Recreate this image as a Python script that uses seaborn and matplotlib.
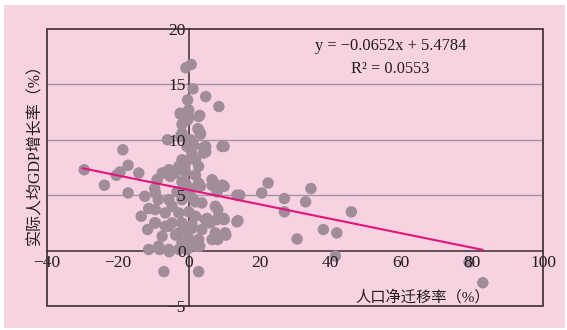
import matplotlib
matplotlib.use("Agg")
import matplotlib.pyplot as plt
import seaborn as sns
import numpy as np
import pandas as pd
from matplotlib.patches import Rectangle

# ---------------- data ----------------
mig_rate = [
    -29.5, -23.8, -18.6, -20.4, -19.4, -17.1, -17.1, -14.1, -12.4, -11.3, -13.4, -11.6,
    -9.6, -8.9, -9.6, -8.6, -7.0, -5.5, -6.0, -1.9, -2.4, -1.3, -0.3, -0.8, 0.7, 1.2,
    -0.3, 0.0, 3.1, 4.8, 8.5, 2.6, 3.3, 1.2, 4.8, 4.8, 10.0, 6.9, 10.0, 8.0, 14.4, 13.9,
    8.2, 10.0, 10.5, 8.2, 20.6, 22.4, 27.0, 27.0, 30.6, 33.0, 34.5, 38.0, 41.8, 41.4,
    45.9, 79.1, 83.0, -7.0, 2.8, -5.5, -8.2, 3.1,
    # dense cluster (lower)
    -1.4, 2.8, 6.6, 9.4, 13.6, -9.4, -5.6, -1.9, 0.9, 3.7, 7.5, -9.4, -6.6, -2.8, 0.0,
    1.9, 5.2, 8.5, 13.6, -9.4, -5.6, -1.9, 0.9, 3.7, 7.5, 10.3, -7.5, -3.7, 0.0, 2.8,
    6.6, -8.5, -5.6, 1.9, -1.9, -11.3,
    # dense cluster (upper)
    -2.3, 0.0, 2.8, -1.9, 2.8, 3.3, -2.3, 0.5, 4.2, 9.4, 4.2, 0.9, -1.9, 1.9, -2.8,
    2.8, -5.6, -7.5, -0.9, 1.9, 6.6, 9.4, -1.9,
    # extra fill
    -0.5, 0.5, 1.4, -0.9, 0.9, -3.8, -5.2, 3.3, -4.7, 1.9, -2.8, -0.9, 0.9, 4.7, 6.1,
    -4.7, -6.6, -0.9, 0.9, -1.9, 2.3, -0.5, -2.8, 8.0, 9.9, -3.3, -1.4, 0.5, -8.9,
]
gdp_growth = [
    7.3, 5.9, 9.1, 6.8, 7.1, 7.7, 5.2, 7.0, 4.9, 3.8, 3.1, 1.9,
    2.5, 6.4, 5.6, 4.6, 7.0, 7.1, 10.0, 10.6, 12.4, 12.2, 11.8, 16.5, 16.8, 14.6,
    13.6, 12.7, 12.2, 13.9, 13.0, 11.0, 10.6, 9.7, 9.4, 8.9, 9.4, 6.2, 5.8, 5.3, 5.0, 2.7,
    3.7, 2.8, 1.4, 1.0, 5.2, 6.1, 4.7, 3.5, 1.05, 4.4, 5.6, 1.9, 1.6, -0.5,
    3.5, -1.05, -2.9, -1.9, -1.9, -0.1, 0.1, 0.4,
    6.1, 6.1, 5.9, 5.9, 5.0, 5.2, 4.6, 4.6, 4.8, 4.3, 4.0, 3.7, 3.4, 3.4, 3.5,
    3.1, 2.9, 3.1, 2.6, 2.5, 2.2, 2.5, 2.3, 1.9, 1.6, 1.6, 1.3, 1.4, 1.1, 1.0,
    1.0, 0.4, 0.1, 0.4, 0.4, 0.1,
    12.3, 12.0, 12.1, 11.4, 10.9, 10.5, 10.3, 9.7, 9.3, 9.4, 8.8, 8.8, 8.2, 8.2, 7.6,
    7.6, 7.3, 7.0, 7.1, 6.8, 6.4, 5.9, 6.2,
    9.4, 10.0, 9.5, 7.9, 8.5, 7.0, 6.7, 5.8, 4.0, 4.4, 1.6, 1.9, 2.0, 2.8, 2.5,
    2.5, 2.2, 6.1, 0.7, 0.7, 0.4, 0.1, 0.1, 2.8, 2.9, 5.3, 5.5, 5.6, 6.4,
]
slope = -0.0652
intercept = 5.4784
r_squared = 0.0553
fit_range = [-30, 83]

x_ticks = [-40, -20, 0, 20, 40, 60, 80, 100]
y_ticks = [-5, 0, 5, 10, 15, 20]
grid_levels = [5, 10, 15]

x_label = "人口净迁移率（%）"
y_label = "实际人均GDP增长率（%）"

df = pd.DataFrame({"mig": mig_rate, "gdp": gdp_growth})
fit_df = pd.DataFrame({"x": fit_range})
fit_df["y"] = slope * fit_df["x"] + intercept

# ---------------- style ----------------
PINK = "#F7D3E1"
POINT = "#A08D99"
LINE = "#E4137E"
GRID = "#A3939C"
DARK = "#3A2A30"
TEXT = "#231A1E"

sns.set_theme(style="white")
plt.rcParams["font.family"] = ["Liberation Serif", "Noto Sans CJK SC", "DejaVu Sans"]
plt.rcParams["axes.unicode_minus"] = True

fig = plt.figure(figsize=(5.67, 3.30), dpi=100)
fig.patch.set_facecolor("white")
bg = Rectangle((4 / 567, 2 / 330), 561 / 567, 323 / 330,
               transform=fig.transFigure, facecolor=PINK, edgecolor="none", zorder=-10)
fig.patches.append(bg)
ax = fig.add_axes([47 / 567, 24 / 330, 496 / 567, 277 / 330])
ax.set_zorder(5)
ax.set_facecolor(PINK)

for g in grid_levels:
    ax.axhline(g, color=GRID, lw=1.0, zorder=1)

sns.scatterplot(data=df, x="mig", y="gdp", ax=ax, color=POINT, s=68,
                edgecolor="none", alpha=1.0, zorder=3, legend=False)
sns.lineplot(data=fit_df, x="x", y="y", ax=ax, color=LINE, lw=1.5, zorder=5)

ax.set_xlim(-40, 100)
ax.set_ylim(-5, 20)
ax.set_xticks(x_ticks)
ax.set_yticks(y_ticks)
ax.set_xlabel("")
ax.set_ylabel("")

ax.spines["left"].set_position(("data", 0))
ax.spines["bottom"].set_position(("data", 0))
ax.spines["top"].set_visible(False)
ax.spines["right"].set_visible(False)
for s in ("left", "bottom"):
    ax.spines[s].set_color(DARK)
    ax.spines[s].set_linewidth(1.1)
    ax.spines[s].set_zorder(2)

ax.add_patch(Rectangle((0, 0), 1, 1, transform=ax.transAxes, fill=False,
                       edgecolor=DARK, lw=1.2, zorder=6, clip_on=False))

ax.tick_params(axis="x", direction="in", length=3, width=0.9, color=DARK,
               labelsize=12.5, labelcolor=TEXT, pad=3)
ax.tick_params(axis="y", length=0, labelsize=12.5, labelcolor=TEXT, pad=2)
ax.xaxis.set_zorder(4)
ax.yaxis.set_zorder(4)

ax.text(85, -4.2, x_label, ha="right", va="center", fontsize=11, color=TEXT)
fig.text(0.062, 0.545, y_label, rotation=90, ha="center", va="center",
         fontsize=11.5, color=TEXT, zorder=6)

ax.text(57, 18.5, f"y = \u2212{abs(slope):.4f}x + {intercept:.4f}", ha="center",
        va="center", fontsize=11.8, color=TEXT)
ax.text(57, 16.4, f"R\u00b2 = {r_squared:.4f}", ha="center", va="center",
        fontsize=11.8, color=TEXT)

fig.savefig("out.png", dpi=100, facecolor=fig.get_facecolor())
